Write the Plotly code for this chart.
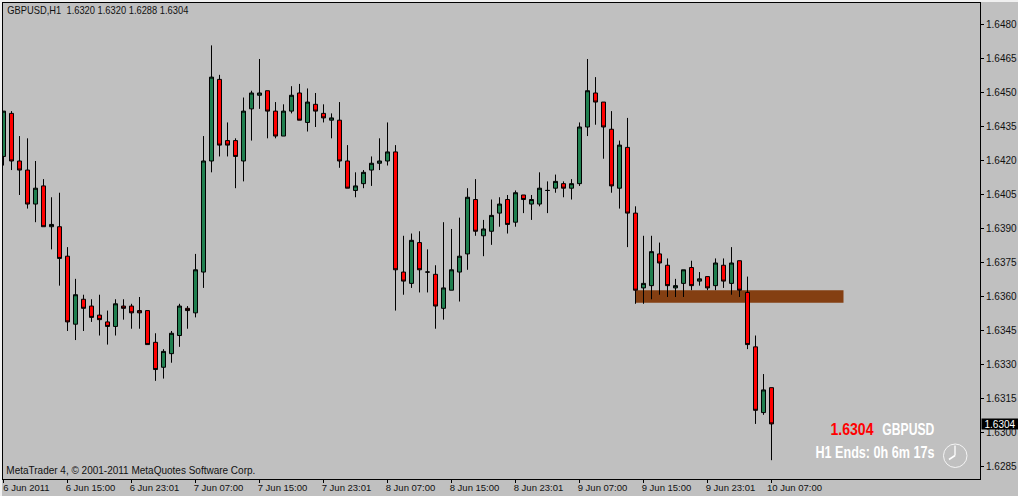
import plotly.graph_objects as go

open_p = [1.6422,1.6441,1.6420,1.6416,1.6401,1.6409,1.6391,1.6391,1.6378,1.6348,
1.6359,1.6356,1.6352,1.6349,1.6347,1.6356,1.6356,1.6354,1.6354,1.6340,
1.6329,1.6335,1.6343,1.6355,1.6353,1.6371,1.6420,1.6456,1.6429,1.6429,
1.6420,1.6443,1.6449,1.6451,1.6442,1.6431,1.6442,1.6450,1.6437,1.6445,
1.6441,1.6438,1.6438,1.6420,1.6407,1.6410,1.6416,1.6419,1.6420,1.6424,
1.6371,1.6366,1.6384,1.6371,1.6370,1.6355,1.6363,1.6371,1.6379,1.6403,
1.6387,1.6389,1.6397,1.6403,1.6393,1.6405,1.6401,1.6401,1.6407,1.6408,
1.6410,1.6408,1.6410,1.6435,1.6450,1.6446,1.6434,1.6408,1.6426,1.6397,
1.6364,1.6365,1.6379,1.6374,1.6364,1.6366,1.6373,1.6367,1.6369,1.6365,
1.6374,1.6366,1.6376,1.6362,1.6338,1.6309,1.6320]
high_p = [1.6442,1.6442,1.6431,1.6430,1.6420,1.6412,1.6404,1.6406,1.6382,1.6368,
1.6361,1.6359,1.6361,1.6354,1.6359,1.6359,1.6357,1.6360,1.6354,1.6344,
1.6337,1.6345,1.6357,1.6356,1.6379,1.6431,1.6471,1.6458,1.6437,1.6430,
1.6448,1.6451,1.6465,1.6451,1.6446,1.6445,1.6453,1.6454,1.6452,1.6450,
1.6445,1.6441,1.6446,1.6427,1.6415,1.6416,1.6422,1.6430,1.6437,1.6427,
1.6387,1.6388,1.6389,1.6381,1.6374,1.6393,1.6390,1.6395,1.6408,1.6412,
1.6394,1.6403,1.6404,1.6405,1.6407,1.6405,1.6405,1.6415,1.6411,1.6414,
1.6411,1.6412,1.6437,1.6465,1.6457,1.6446,1.6442,1.6429,1.6439,1.6400,
1.6387,1.6387,1.6384,1.6377,1.6368,1.6372,1.6376,1.6371,1.6369,1.6377,
1.6377,1.6382,1.6376,1.6369,1.6343,1.6326,1.6320]
low_p = [1.6418,1.6416,1.6405,1.6399,1.6393,1.6391,1.6381,1.6365,1.6345,1.6341,
1.6345,1.6349,1.6343,1.6339,1.6343,1.6350,1.6346,1.6346,1.6339,1.6323,
1.6324,1.6331,1.6338,1.6346,1.6351,1.6364,1.6415,1.6422,1.6422,1.6408,
1.6411,1.6429,1.6443,1.6430,1.6430,1.6431,1.6441,1.6438,1.6433,1.6435,
1.6437,1.6430,1.6417,1.6408,1.6404,1.6408,1.6409,1.6416,1.6418,1.6354,
1.6361,1.6364,1.6362,1.6362,1.6346,1.6350,1.6363,1.6358,1.6372,1.6387,
1.6378,1.6383,1.6391,1.6388,1.6391,1.6397,1.6394,1.6400,1.6397,1.6406,
1.6404,1.6403,1.6409,1.6431,1.6436,1.6421,1.6406,1.6399,1.6382,1.6357,
1.6357,1.6359,1.6361,1.6360,1.6360,1.6360,1.6363,1.6365,1.6363,1.6363,
1.6364,1.6361,1.6360,1.6337,1.6304,1.6308,1.6288]
close_p = [1.6442,1.6420,1.6416,1.6401,1.6408,1.6391,1.6392,1.6377,1.6349,1.6361,
1.6355,1.6351,1.6350,1.6347,1.6357,1.6355,1.6353,1.6353,1.6339,1.6328,
1.6336,1.6344,1.6356,1.6354,1.6372,1.6420,1.6457,1.6427,1.6427,1.6422,
1.6442,1.6450,1.6450,1.6442,1.6431,1.6442,1.6449,1.6438,1.6446,1.6442,
1.6439,1.6439,1.6420,1.6408,1.6409,1.6415,1.6419,1.6420,1.6424,1.6372,
1.6367,1.6385,1.6372,1.6371,1.6356,1.6364,1.6372,1.6378,1.6404,1.6389,
1.6390,1.6396,1.6401,1.6392,1.6406,1.6403,1.6403,1.6408,1.6407,1.6411,
1.6408,1.6410,1.6435,1.6451,1.6446,1.6435,1.6409,1.6427,1.6397,1.6363,
1.6366,1.6380,1.6375,1.6365,1.6365,1.6372,1.6365,1.6368,1.6364,1.6375,
1.6367,1.6375,1.6363,1.6339,1.6310,1.6319,1.6304]

bars = list(range(len(open_p)))
time_ticks = [0, 8, 16, 24, 32, 40, 48, 56, 64, 72, 80, 88, 96]
time_labels = ["6 Jun 2011", "6 Jun 15:00", "6 Jun 23:01", "7 Jun 07:00", "7 Jun 15:00",
               "7 Jun 23:01", "8 Jun 07:00", "8 Jun 15:00", "8 Jun 23:01", "9 Jun 07:00",
               "9 Jun 15:00", "9 Jun 23:01", "10 Jun 07:00"]
price_ticks = [1.6285, 1.6300, 1.6315, 1.6330, 1.6345, 1.6360, 1.6375, 1.6390,
               1.6405, 1.6420, 1.6435, 1.6450, 1.6465, 1.6480]
zone_bars = [79, 105]
zone_prices = [1.63575, 1.6363]
last_price = 1.6304

W, H = 1018, 496
L, R, T, B = 3, 38, 3, 17
FONT = "Liberation Sans"
px = lambda v: (v - L) / (W - L - R)
py = lambda v: (H - B - v) / (H - T - B)

fig = go.Figure(go.Candlestick(
    x=bars, open=open_p, high=high_p, low=low_p, close=close_p,
    increasing=dict(fillcolor="#1F7F4F", line=dict(color="#000000", width=1)),
    decreasing=dict(fillcolor="#FF0000", line=dict(color="#000000", width=1)),
    whiskerwidth=0, hoverinfo="skip", showlegend=False,
))

shapes = [
    dict(type="rect", xref="x", yref="y", x0=zone_bars[0], x1=zone_bars[1],
         y0=zone_prices[0], y1=zone_prices[1], fillcolor="#843F12", line_width=0, layer="below"),
    dict(type="rect", xref="paper", yref="paper", x0=px(0), x1=px(W), y0=py(0), y1=py(2),
         fillcolor="#F0F0F0", line_width=0, layer="above"),
    dict(type="rect", xref="paper", yref="paper", x0=px(0), x1=px(2), y0=py(0), y1=py(H),
         fillcolor="#F0F0F0", line_width=0, layer="above"),
    dict(type="circle", xref="paper", yref="paper", x0=px(943.5), x1=px(967), y0=py(444), y1=py(467.5),
         line=dict(color="#F4F4F4", width=1), layer="above"),
    dict(type="line", xref="paper", yref="paper", x0=px(955), x1=px(955), y0=py(455.5), y1=py(445.5),
         line=dict(color="#FFFFFF", width=1.3), layer="above"),
    dict(type="line", xref="paper", yref="paper", x0=px(955), x1=px(949), y0=py(455.5), y1=py(459.5),
         line=dict(color="#FFFFFF", width=1.6), layer="above"),
]

def note(text, xpx, ypx, size, color, anchor="left", bold=False):
    return dict(text=text, xref="paper", yref="paper", x=px(xpx), y=py(ypx), xanchor=anchor,
                yanchor="middle", showarrow=False, borderpad=0, borderwidth=0,
                font=dict(family=FONT, size=size, color=color, weight="bold" if bold else "normal"))

HEADER = "GBPUSD,H1\u00a0\u00a01.6320 1.6320 1.6288 1.6304"
FOOTER = "MetaTrader 4, © 2001-2011 MetaQuotes Software Corp."
annotations = [
    note(HEADER, 97.5, 10, 10.5, "#111111", "center"),
    note(FOOTER, 130.5, 470, 10.5, "#111111", "center"),
    note("1.6304", 852.5, 429, 17, "#FF0000", "center", True),
    note("GBPUSD", 908, 429, 16.5, "#FFFFFF", "center", True),
    note("H1 Ends: 0h 6m 17s", 874.5, 452, 16.5, "#FFFFFF", "center", True),
    dict(text="1.6304", xref="paper", yref="y", x=px(1000), y=last_price, xanchor="center",
         yanchor="middle", showarrow=False, font=dict(family=FONT, size=10, color="#FFFFFF"),
         bgcolor="#000000", width=36, height=10, borderpad=0),
]

fig.update_layout(
    width=W, height=H, margin=dict(l=L, r=R, t=T, b=B, pad=0), autosize=False,
    paper_bgcolor="#C0C0C0", plot_bgcolor="#C0C0C0",
    boxgap=0.5, boxgroupgap=0, shapes=shapes, annotations=annotations, showlegend=False,
    xaxis=dict(range=[-0.0625, 122.0625], tickmode="array", tickvals=time_ticks, ticktext=time_labels,
               rangeslider=dict(visible=False), showgrid=False, zeroline=False, showline=True,
               mirror=True, linecolor="#000000", linewidth=1, ticks="outside", ticklen=3,
               tickcolor="#000000", tickwidth=1, ticklabelshift=23, ticklabelstandoff=-3,
               automargin=False, tickfont=dict(family=FONT, size=9.5, color="#111111")),
    yaxis=dict(range=[1.62797, 1.64897], side="right", tickmode="array", tickvals=price_ticks,
               ticktext=[f"{v:.4f}" for v in price_ticks], showgrid=False, zeroline=False,
               showline=True, mirror=True, linecolor="#000000", linewidth=1, ticks="outside",
               ticklen=3, tickcolor="#000000", tickwidth=1, automargin=False,
               tickfont=dict(family=FONT, size=10, color="#111111")),
)

post = """
document.body.style.margin='0';document.body.style.overflow='hidden';
(function(){
  var widths={'1.6304':43,'GBPUSD':52,'H1 Ends: 0h 6m 17s':119};
  widths['GBPUSD,H1\\u00a0\\u00a01.6320 1.6320 1.6288 1.6304']=181;
  widths['MetaTrader 4, \\u00a9 2001-2011 MetaQuotes Software Corp.']=249;
  function fit(){
    document.querySelectorAll('.annotation-text').forEach(function(t){
      var w=widths[t.textContent];
      if(w&&t.style.fill!=='rgb(255, 255, 255)'||w&&t.textContent!=='1.6304'){
        t.setAttribute('textLength',w);t.setAttribute('lengthAdjust','spacingAndGlyphs');}
    });
  }
  fit();setTimeout(fit,50);setTimeout(fit,300);
})();
"""
fig.write_html("out.html", config=dict(displayModeBar=False), post_script=post)
